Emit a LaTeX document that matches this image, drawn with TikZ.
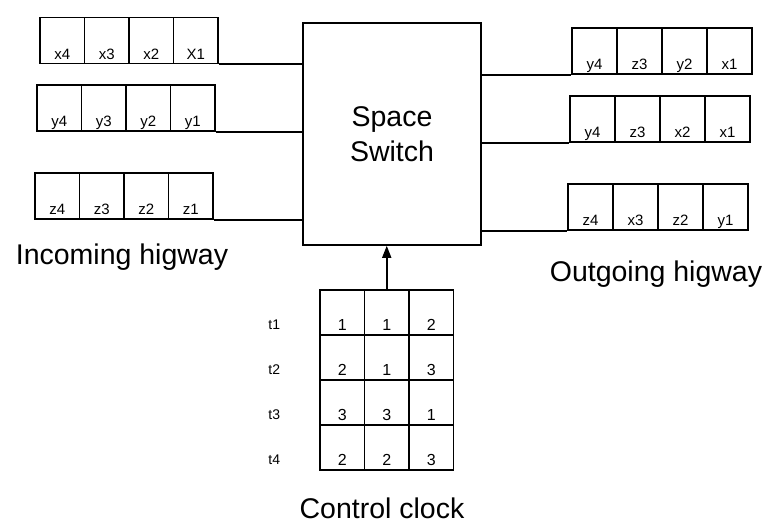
\documentclass[tikz,border=0pt]{standalone}
\usepackage{fontspec}
\setmainfont{Liberation Sans}
\usetikzlibrary{arrows.meta}
\begin{document}
\begin{tikzpicture}[x=1pt,y=-1pt,
  cell/.style={draw, line width=1.6pt, minimum width=44.5pt, minimum height=46pt, inner sep=0pt},
  gcell/.style={draw, line width=1.6pt, minimum width=44.5pt, minimum height=45pt, inner sep=0pt},
  clab/.style={anchor=base, inner sep=0pt, font=\fontsize{15}{15}\selectfont},
  nlab/.style={anchor=base, inner sep=0pt, font=\fontsize{16}{16}\selectfont},
  tlab/.style={anchor=base, inner sep=0pt, font=\fontsize{14}{14}\selectfont},
  big/.style={inner sep=0pt, font=\fontsize{28.5}{35}\selectfont},
  wire/.style={line width=1.6pt}]
\useasboundingbox (0,0) rectangle (766,524);
% space switch
\node[draw, line width=1.6pt, minimum width=178pt, minimum height=222pt, inner sep=0pt,
      align=center, font=\fontsize{28.5}{35}\selectfont] (sw) at (392,134) {Space\\Switch};
% incoming highways
\foreach \lab [count=\i] in {x4,x3,x2,X1} {
  \node[cell] (ia\i) at ({40+44.5*(\i-0.5)},40.5) {};
  \node[clab] at ([yshift=5pt]ia\i.south) {\lab};
}
\foreach \lab [count=\i] in {y4,y3,y2,y1} {
  \node[cell] (ib\i) at ({37+44.5*(\i-0.5)},108) {};
  \node[clab] at ([yshift=5pt]ib\i.south) {\lab};
}
\foreach \lab [count=\i] in {z4,z3,z2,z1} {
  \node[cell] (ic\i) at ({35+44.5*(\i-0.5)},196) {};
  \node[clab] at ([yshift=5pt]ic\i.south) {\lab};
}
\draw[wire] (ia4.south east) -- (ia4.south east -| sw.west);
\draw[wire] (ib4.south east) -- (ib4.south east -| sw.west);
\draw[wire] (ic4.south east) -- (ic4.south east -| sw.west);
% outgoing highways
\foreach \lab [count=\i] in {y4,z3,y2,x1} {
  \node[cell] (oa\i) at ({572+45*(\i-0.5)},51) {};
  \node[clab] at ([yshift=5pt]oa\i.south) {\lab};
}
\foreach \lab [count=\i] in {y4,z3,x2,x1} {
  \node[cell] (ob\i) at ({570+45*(\i-0.5)},119) {};
  \node[clab] at ([yshift=5pt]ob\i.south) {\lab};
}
\foreach \lab [count=\i] in {z4,x3,z2,y1} {
  \node[cell] (oc\i) at ({568+45*(\i-0.5)},207) {};
  \node[clab] at ([yshift=5pt]oc\i.south) {\lab};
}
\draw[wire] (sw.east |- oa1.south west) -- (oa1.south west);
\draw[wire] (sw.east |- ob1.south west) -- (ob1.south west);
\draw[wire] (sw.east |- oc1.south west) -- (oc1.south west);
% labels
\node[big, anchor=base] (inl) at (122,264) {Incoming higway};
\node[big, anchor=base] (outl) at (656,281) {Outgoing higway};
% control clock grid
\foreach \r/\a/\b/\c [count=\k] in {1/1/1/2, 2/2/1/3, 3/3/3/1, 4/2/2/3} {
  \node[gcell] (g\r1) at ({320+44.5*0.5},{290+45*(\r-0.5)}) {};
  \node[gcell] (g\r2) at ({320+44.5*1.5},{290+45*(\r-0.5)}) {};
  \node[gcell] (g\r3) at ({320+44.5*2.5},{290+45*(\r-0.5)}) {};
  \node[nlab] at ([yshift=5pt]g\r1.south) {\a};
  \node[nlab] at ([yshift=5pt]g\r2.south) {\b};
  \node[nlab] at ([yshift=5pt]g\r3.south) {\c};
  \node[tlab] (t\r) at ([xshift=-68pt,yshift=6pt]g\r1.south) {t\r};
}
\draw[wire, -{Triangle[length=12pt,width=9pt]}] (g12.north) -- (g12.north |- sw.south);
\node[big, anchor=base] (ccl) at (382,518) {Control clock};
\end{tikzpicture}
\end{document}
